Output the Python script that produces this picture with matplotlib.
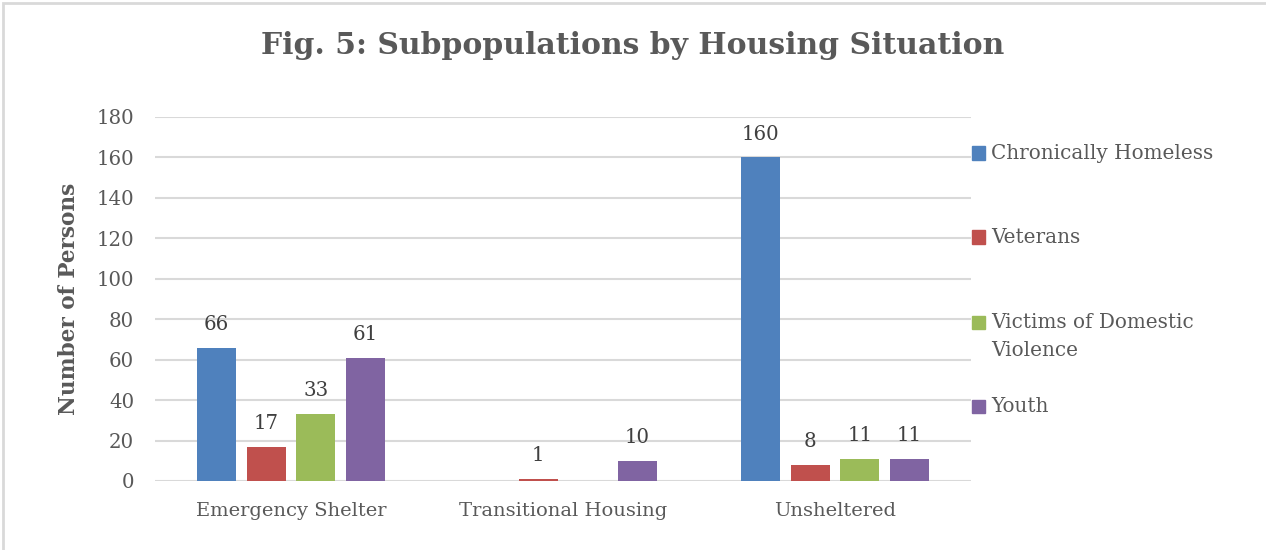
import numpy as np
import matplotlib
matplotlib.use('Agg')
import matplotlib.pyplot as plt
from matplotlib.patches import Rectangle

# data
categories = ['Emergency Shelter', 'Transitional Housing', 'Unsheltered']
series = ['Chronically Homeless', 'Veterans', 'Victims of Domestic\nViolence', 'Youth']
chronic = [66, 0, 160]
veterans = [17, 1, 8]
victims = [33, 0, 11]
youth = [61, 10, 11]
values = [chronic, veterans, victims, youth]
colors = ['#4F81BD', '#C0504D', '#9BBB59', '#8064A2']
yticks = [0, 20, 40, 60, 80, 100, 120, 140, 160, 180]

txt = '#595959'
plt.rcParams['font.family'] = ['DejaVu Serif']

fig = plt.figure(figsize=(12.66, 5.5), dpi=100)
ax = fig.add_axes([0.1224, 0.1255, 0.6446, 0.6618])

x = np.arange(len(categories))
width = 0.143
step = 0.182
for i, (vals, col) in enumerate(zip(values, colors)):
    pos = x + (i - 1.5) * step
    bars = ax.bar(pos, vals, width, color=col, zorder=3)
    labels = [str(v) if v > 0 else '' for v in vals]
    ax.bar_label(bars, labels=labels, padding=10, fontsize=14.2, color='#404040')

ax.set_xlim(-0.5, 2.5)
ax.set_ylim(0, 180)
ax.set_yticks(yticks)
ax.set_xticks(x)
ax.set_xticklabels(categories)
ax.tick_params(axis='x', length=0, pad=15, labelsize=14, labelcolor=txt)
ax.tick_params(axis='y', length=0, pad=15, labelsize=14.2, labelcolor=txt)
ax.grid(axis='y', color='#D9D9D9', linewidth=1.5, zorder=0)
for s in ax.spines.values():
    s.set_visible(False)

ax.set_ylabel('Number of Persons', fontsize=15.6, fontweight='bold', color=txt, labelpad=12)
fig.suptitle('Fig. 5: Subpopulations by Housing Situation', x=0.5, y=0.943,
             fontsize=21.5, fontweight='bold', color=txt)

# legend, drawn by hand so the marker sits on the first line of a wrapped label
leg_y = [153, 237, 322, 406]
for name, col, yy in zip(series, colors, leg_y):
    yf = 1 - yy / 550
    fig.patches.append(Rectangle((972 / 1266, yf - 6.5 / 550), 13 / 1266, 13 / 550,
                                 transform=fig.transFigure, color=col))
    fig.text(991 / 1266, yf + 9 / 550, name, fontsize=14.4, color=txt,
             va='top', ha='left', linespacing=1.6)

# light outer frame
fig.patches.append(Rectangle((3 / 1266, -0.01), 1.05, 1 - 3 / 550 + 0.01, transform=fig.transFigure,
                             fill=False, edgecolor='#D9D9D9', linewidth=2))

fig.savefig('out.png', dpi=100)
